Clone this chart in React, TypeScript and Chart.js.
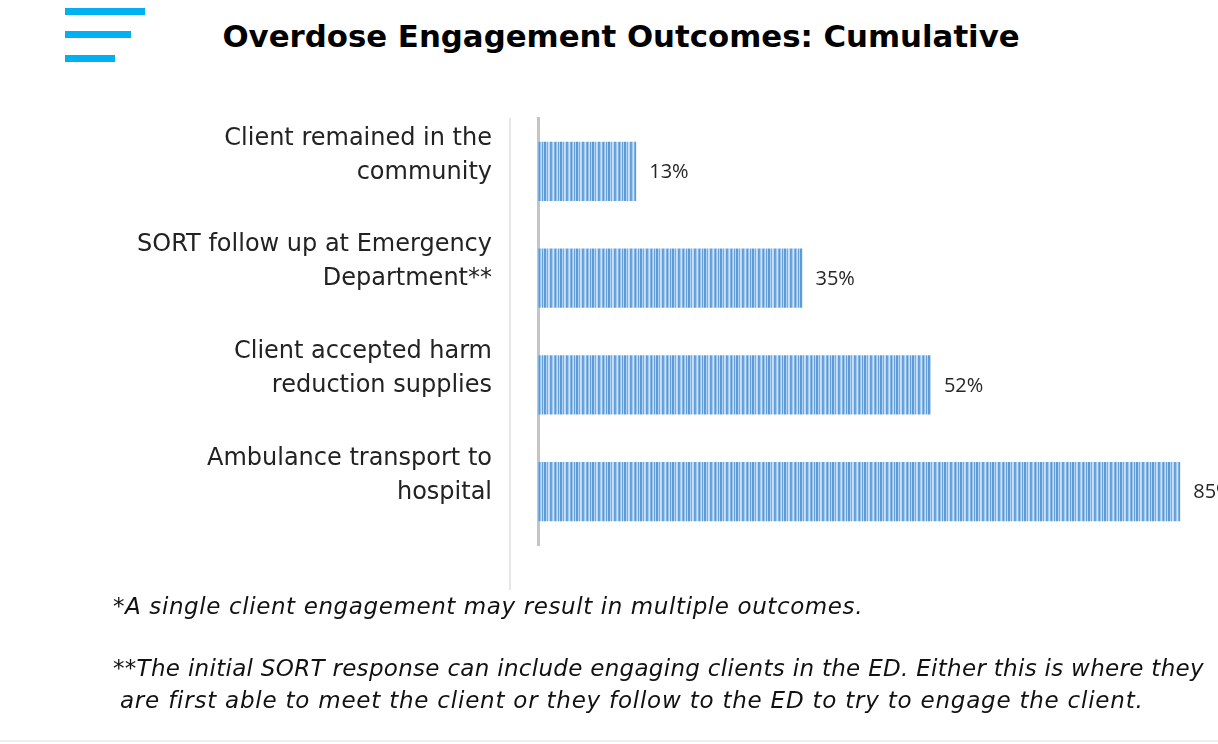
import React, { useEffect, useRef } from "react";
import { Chart, registerables } from "chart.js";

Chart.register(...registerables);

const categoryLabels: string[][] = [
  ["Client remained in the", "community"],
  ["SORT follow up at Emergency", "Department**"],
  ["Client accepted harm", "reduction supplies"],
  ["Ambulance transport to", "hospital"],
];
const outcomeValues: number[] = [13, 35, 52, 85];
const axisMin = 0;
const axisMax = 90;

const titleText = "Overdose Engagement Outcomes: Cumulative";
const footnote1 = "*A single client engagement may result in multiple outcomes.";
const footnote2a =
  "**The initial SORT response can include engaging clients in the ED. Either this is where they";
const footnote2b =
  "are first able to meet the client or they follow to the ED to try to engage the client.";

const FONT = "'DejaVu Sans', sans-serif";

function makePattern(ctx: CanvasRenderingContext2D): CanvasPattern | string {
  const c = document.createElement("canvas");
  const stripes = [
    "#5b9bd5", "#5e9dd7", "#b3d1f0", "#74abe0", "#c9def4", "#c2daf3",
    "#5d9dd7", "#6aa5dd", "#a6c9ed", "#d0e2f6", "#7db2e3", "#5b9bd5",
    "#9cc3ea", "#c6dcf4", "#64a1db", "#b9d5f1",
  ];
  c.width = stripes.length;
  c.height = 1;
  const pctx = c.getContext("2d");
  if (!pctx) return "#8ab8e6";
  stripes.forEach((col, i) => {
    pctx.fillStyle = col;
    pctx.fillRect(i, 0, 1, 1);
  });
  return ctx.createPattern(c, "repeat") || "#8ab8e6";
}

const valueLabelPlugin = {
  id: "valueLabels",
  afterDatasetsDraw(chart: any) {
    const ctx = chart.ctx as CanvasRenderingContext2D;
    const meta = chart.getDatasetMeta(0);
    ctx.save();
    ctx.font = `20px 'Open Sans', sans-serif`;
    ctx.fillStyle = "#262626";
    ctx.textBaseline = "middle";
    ctx.textAlign = "left";
    meta.data.forEach((bar: any, i: number) => {
      const v = chart.data.datasets[0].data[i];
      ctx.fillText(`${v}%`, bar.x + 13, bar.y + 1);
    });
    ctx.restore();
  },
};

export default function App() {
  const canvasRef = useRef<HTMLCanvasElement | null>(null);

  useEffect(() => {
    const canvas = canvasRef.current;
    if (!canvas) return;
    const ctx = canvas.getContext("2d");
    if (!ctx) return;
    const pattern = makePattern(ctx);
    const chart = new Chart(canvas, {
      type: "bar",
      data: {
        labels: categoryLabels,
        datasets: [
          {
            data: outcomeValues,
            backgroundColor: pattern as any,
            borderWidth: 0,
            categoryPercentage: 1,
            barPercentage: 0.553,
          },
        ],
      },
      options: {
        indexAxis: "y",
        responsive: false,
        animation: false,
        devicePixelRatio: 1,
        layout: { padding: { top: 118, bottom: 199, left: 0, right: 0 } },
        plugins: {
          legend: { display: false },
          tooltip: { enabled: false },
          title: { display: false },
        },
        scales: {
          x: { display: false, min: axisMin, max: axisMax },
          y: {
            grid: { display: false },
            border: { display: true, color: "#c4c4c4", width: 3 },
            ticks: {
              color: "#222222",
              padding: 38,
              labelOffset: -16,
              font: { family: FONT, size: 24, lineHeight: 1.42 },
            },
            afterFit(scale: any) {
              scale.width = 538;
            },
          },
        },
      },
      plugins: [valueLabelPlugin],
    });
    return () => chart.destroy();
  }, []);

  const bar = (top: number, width: number) => (
    <div style={{ position: "absolute", left: 65, top, width, height: 7, background: "#00b0f0" }} />
  );

  const footStyle: React.CSSProperties = {
    position: "absolute",
    left: 113,
    fontFamily: FONT,
    fontStyle: "italic",
    fontSize: 23,
    color: "#111",
    whiteSpace: "nowrap",
  };

  return (
    <div style={{ position: "absolute", left: 0, top: 0, width: 1218, height: 744, background: "#fff", overflow: "hidden" }}>
      {bar(8, 80)}
      {bar(31, 66)}
      {bar(55, 50)}
      <div
        style={{
          position: "absolute",
          left: 0,
          width: 1242,
          top: 18,
          textAlign: "center",
          fontFamily: FONT,
          fontWeight: 700,
          fontSize: 30.8,
          color: "#000",
          whiteSpace: "nowrap",
        }}
      >
        {titleText}
      </div>
      <div style={{ position: "absolute", left: 509, top: 118, width: 2, height: 472, background: "#e6e6e6" }} />
      <canvas ref={canvasRef} width={1218} height={744} style={{ position: "absolute", left: 0, top: 0 }} />
      <div style={{ ...footStyle, top: 593, letterSpacing: "0.6px" }}>{footnote1}</div>
      <div style={{ ...footStyle, top: 652, letterSpacing: "0.3px", lineHeight: "32px" }}>{footnote2a}</div>
      <div style={{ ...footStyle, top: 684, left: 120, letterSpacing: "0.78px", lineHeight: "32px" }}>{footnote2b}</div>
      <div style={{ position: "absolute", left: 0, top: 740, width: 1218, height: 2, background: "#efefef" }} />
    </div>
  );
}
